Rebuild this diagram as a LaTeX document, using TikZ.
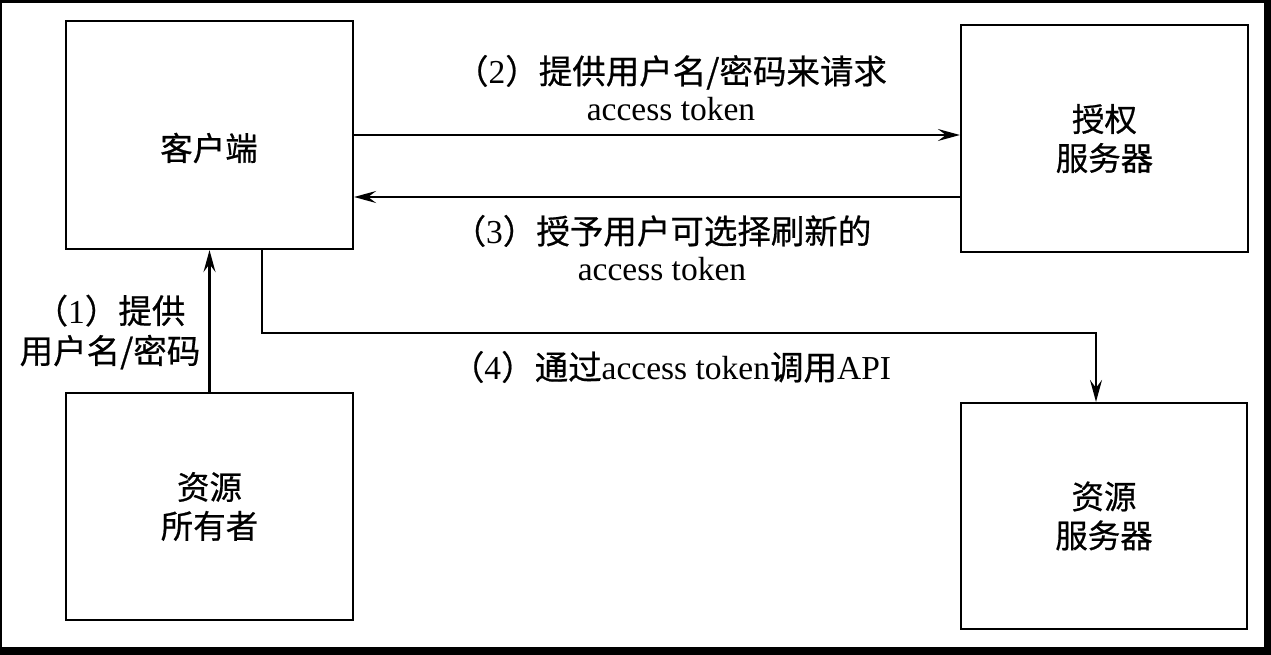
\documentclass[tikz,border=0pt]{standalone}
\usepackage{fontspec}
\setmainfont{Liberation Serif}
\newfontfamily\cjk[FakeBold=0.6]{Noto Sans CJK SC}
\usetikzlibrary{arrows.meta}
\begin{document}
\begin{tikzpicture}[x=1pt,y=-1pt,
  box/.style={draw=black, line width=2.2pt, inner sep=0pt, align=center,
    font=\cjk\fontsize{32.5}{39}\selectfont},
  lbl/.style={inner sep=0pt, align=center, font=\fontsize{33.5}{37}\selectfont},
  arr/.style={line width=2.1pt, -{Stealth[length=22pt,width=12pt,inset=8pt]}}]
\useasboundingbox (0,0) rectangle (1271,655);
\fill[black] (0,0) rectangle (1271,655);
\fill[white] (2,3) rectangle (1264,647);
% boxes
\node[box, minimum width=287pt, minimum height=228pt] (client) at (209.5,135) {};
\node[box, draw=none] (clienttxt) at (209,148) {客户端};
\node[box, minimum width=287pt, minimum height=227pt] (auth) at (1104.5,138.5) {授权\\服务器};
\node[box, minimum width=287pt, minimum height=227pt] (owner) at (209.5,506.5) {资源\\所有者};
\node[box, minimum width=286pt, minimum height=226pt] (res) at (1104,516) {资源\\服务器};
% connectors
\coordinate (y3) at (0,197);
\coordinate (y4) at (0,333);
\draw[arr] (client.east) -- (client.east -| auth.west);
\draw[arr] (auth.west |- y3) -- (client.east |- y3);
\draw[arr] (owner.north) -- (client.south);
\draw[arr] ([xshift=52.5pt]client.south) |- ([xshift=-8pt]res.north |- y4) -- ([xshift=-8pt]res.north);
% labels
\node[lbl] (l2) at (671,88) {{\cjk （}2{\cjk ）提供用户名/密码来请求}\\access token};
\node[lbl] (l3) at (662,248) {{\cjk （}3{\cjk ）授予用户可选择刷新的}\\access token};
\node[lbl] (l4) at (671,367) {{\cjk （}4{\cjk ）通过}access token{\cjk 调用}API};
\node[lbl, font=\fontsize{33.5}{40}\selectfont] (l1) at (110,332) {{\cjk （}1{\cjk ）提供}\\{\cjk 用户名/密码}};
\end{tikzpicture}
\end{document}
